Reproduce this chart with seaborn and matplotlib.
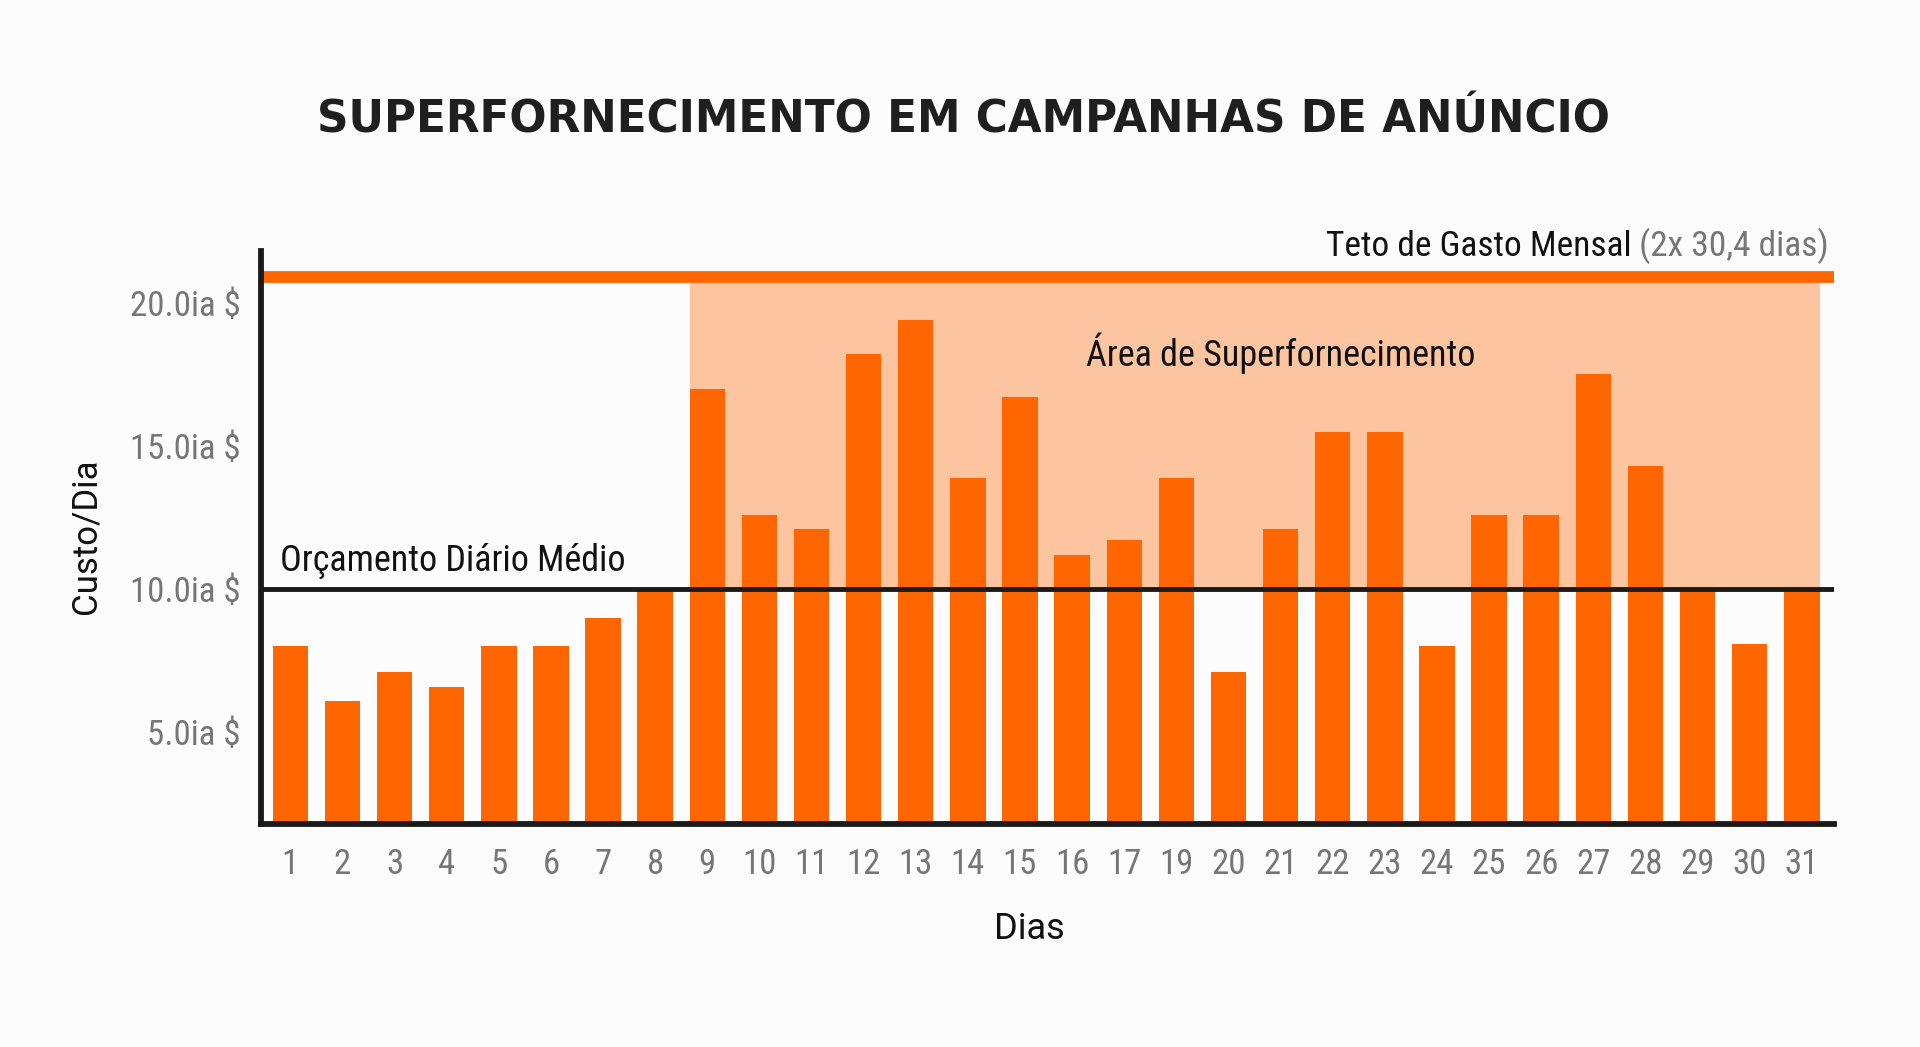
import matplotlib
matplotlib.use("Agg")
import matplotlib.pyplot as plt
import seaborn as sns

# dados (dia 18 não aparece no original)
dias = ['1', '2', '3', '4', '5', '6', '7', '8', '9', '10', '11', '12', '13', '14', '15',
        '16', '17', '19', '20', '21', '22', '23', '24', '25', '26', '27', '28', '29', '30', '31']
custo = [8.0, 6.1, 7.1, 6.6, 8.0, 8.0, 9.0, 10.0, 17.0, 12.6, 12.1, 18.2, 19.4, 13.9, 16.7,
         11.2, 11.7, 13.9, 7.1, 12.1, 15.5, 15.5, 8.0, 12.6, 12.6, 17.5, 14.3, 10.0, 8.1, 10.0]
y_ticks = [5, 10, 15, 20]
orcamento_medio = 10.0
teto_mensal = 20.9
inicio_super = 8   # índice do dia 9

LARANJA = '#FF6600'
LARANJA_CLARO = '#FDC4A0'
FUNDO = '#FCFCFC'
CINZA = '#767676'

sns.set_theme(style='white')
plt.rcParams['font.family'] = ['Roboto Condensed', 'Roboto', 'DejaVu Sans']

fig = plt.figure(figsize=(19.2, 10.47), dpi=100, facecolor=FUNDO)
ax = fig.add_axes([0.136, 0.213, 0.819, 0.547])
ax.set_facecolor('none')

largura = 0.68
sns.barplot(x=dias, y=custo, order=dias, color=LARANJA, saturation=1, width=largura,
            linewidth=0, ax=ax, zorder=2)

# área de superfornecimento
ax.fill_between([inicio_super - largura / 2, len(dias) - 1 + largura / 2],
                orcamento_medio, teto_mensal - 0.22, color=LARANJA_CLARO, lw=0, zorder=1)

# linhas de referência
ax.axhline(teto_mensal, color=LARANJA, lw=8.5, zorder=3, solid_capstyle='butt')
ax.axhline(orcamento_medio, color='#1a1a1a', lw=3.5, zorder=4)

ax.set_xlim(-0.56, len(dias) - 1 + 0.61)
ax.set_ylim(1.8, 21.8)
ax.set_yticks(y_ticks)
ax.set_yticklabels([f'{v:.1f}ia $' for v in y_ticks])
ax.tick_params(axis='both', length=0, labelsize=25, labelcolor=CINZA)
ax.tick_params(axis='y', pad=15)
ax.tick_params(axis='x', pad=17)
ax.set_xlabel('')
ax.set_ylabel('')

sns.despine(ax=ax)
for lado in ['left', 'bottom']:
    ax.spines[lado].set_linewidth(4.2)
    ax.spines[lado].set_color('#1a1a1a')
    ax.spines[lado].set_zorder(5)

# textos
ax.text(0.012, orcamento_medio + 0.35, 'Orçamento Diário Médio', transform=ax.get_yaxis_transform(),
        fontsize=26, color='#111111', va='bottom', ha='left', zorder=6)
ax.text(19.0, 18.25, 'Área de Superfornecimento', fontsize=26, color='#111111',
        ha='center', va='center', zorder=6)

fig.canvas.draw()
renderer = fig.canvas.get_renderer()
t_cinza = ax.text(0.997, 21.98, ' (2x 30,4 dias)', transform=ax.get_yaxis_transform(),
                  fontsize=25.5, color=CINZA, ha='right', va='center', clip_on=False)
bb = t_cinza.get_window_extent(renderer)
x_esq = ax.transAxes.inverted().transform((bb.x0, bb.y0))[0]
ax.text(x_esq, 21.98, 'Teto de Gasto Mensal', transform=ax.get_yaxis_transform(),
        fontsize=25.5, color='#111111', ha='right', va='center', clip_on=False)

fig.text(0.5016, 0.885, 'SUPERFORNECIMENTO EM CAMPANHAS DE ANÚNCIO', fontsize=31.5,
         fontweight='bold', color='#1f1f1f', ha='center', va='center', family='DejaVu Sans')
fig.text(0.045, 0.488, 'Custo/Dia', fontsize=25, rotation=90, color='#111111',
         ha='center', va='center', family=['Roboto', 'DejaVu Sans'])
fig.text(0.536, 0.113, 'Dias', fontsize=26, color='#111111', ha='center', va='center',
         family=['Roboto', 'DejaVu Sans'])

fig.savefig('out.png', dpi=100, facecolor=FUNDO)
